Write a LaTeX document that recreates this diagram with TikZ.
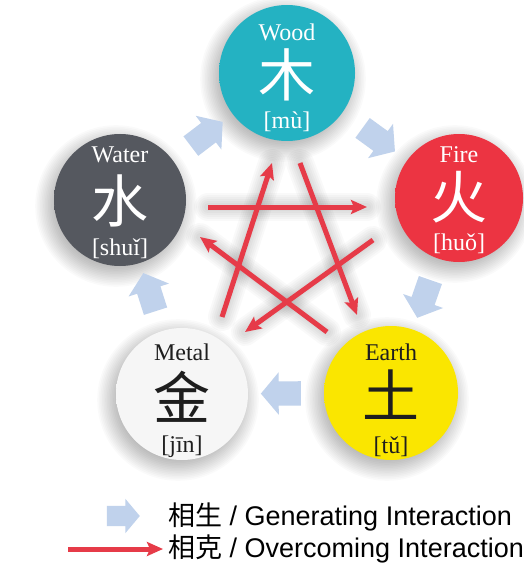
\documentclass[tikz,border=0pt]{standalone}
\usepackage{fontspec}
\setmainfont{Liberation Serif}
\newfontfamily\legendfont{Liberation Sans}
\newfontfamily\cjk{Noto Sans CJK SC}
\usetikzlibrary{shapes.arrows,arrows.meta}
\definecolor{woodIn}{HTML}{24B2C2}
\definecolor{woodOut}{HTML}{138E9E}
\definecolor{fireIn}{HTML}{EC3442}
\definecolor{fireOut}{HTML}{C81E2E}
\definecolor{waterIn}{HTML}{55585F}
\definecolor{waterOut}{HTML}{3C3F46}
\definecolor{metalIn}{HTML}{F6F6F6}
\definecolor{metalOut}{HTML}{E2E2E2}
\definecolor{earthIn}{HTML}{FAE600}
\definecolor{earthOut}{HTML}{E6D000}
\definecolor{genBlue}{HTML}{C0D2EC}
\definecolor{overRed}{HTML}{E63B48}
\definecolor{darkTxt}{HTML}{1E1E1E}
\colorlet{btnin}{white}
\colorlet{btnout}{black}
\pgfdeclareradialshading[btnin,btnout]{button}{\pgfpoint{0bp}{0bp}}{color(0bp)=(btnin); color(36bp)=(btnin); color(50bp)=(btnout)}
\tikzset{
  element/.style n args={3}{circle, minimum size=#1, inner sep=0pt, draw=none,
     /utils/exec={\colorlet{btnin}{#2}\colorlet{btnout}{#3}}, shade, shading=button},
  wordtxt/.style={anchor=base, inner sep=0pt, font=\fontsize{24}{28}\selectfont},
  chartxt/.style={inner sep=0pt, font=\cjk\fontsize{57}{60}\selectfont},
  pytxt/.style={anchor=base, inner sep=0pt, font=\fontsize{24}{28}\selectfont},
  genarrow/.style={single arrow, fill=genBlue, draw=none, minimum height=40pt,
     inner xsep=0pt, inner ysep=12pt, single arrow head extend=9pt,
     single arrow tip angle=100, sloped, allow upside down, midway},
  legendarrow/.style={single arrow, fill=genBlue, draw=none, minimum height=33pt,
     inner xsep=0pt, inner ysep=10pt, single arrow head extend=7pt, single arrow tip angle=100},
  overarrow/.style={draw=overRed, line width=5pt, -{Stealth[length=16pt,width=14pt,inset=3pt]}},
  haze/.style={draw=black, opacity=0.025, line cap=round},
  shadowring/.style={fill=black, opacity=0.018},
  legendtxt/.style={anchor=west, inner sep=0pt, font=\legendfont\fontsize{27}{32}\selectfont},
}
\begin{document}
\begin{tikzpicture}[x=1pt,y=-1pt]
\fill[white] (0,0) rectangle (523,564);
\useasboundingbox (0,0) rectangle (523,564);

% soft shadows of the buttons
\foreach \cx/\cy/\r in {287/73/68, 459/198/64, 120/200/66, 182/394/66, 391/393/67}{
  \foreach \k in {0,...,13}{
    \fill[shadowring] (\cx-4,\cy+6) circle[radius={(\r-6+1.6*\k)*1pt}];
  }
}

% star coordinates
\coordinate (s1a) at (300,163); \coordinate (s1b) at (357,315);
\coordinate (s2a) at (373,240); \coordinate (s2b) at (245,332);
\coordinate (s3a) at (222,317); \coordinate (s3b) at (272,163);
\coordinate (s4a) at (208,207); \coordinate (s4b) at (367,207);
\coordinate (s5a) at (327,332); \coordinate (s5b) at (200,237);

% haze behind the star
\foreach \a/\b in {s1a/s1b, s2a/s2b, s3a/s3b, s4a/s4b, s5a/s5b}{
  \foreach \w in {28,24,20,16,12,8}{
    \draw[haze, line width=\w pt] (\a) -- (\b);
  }
}

% element buttons
\node[element={136pt}{woodIn}{woodOut}] (wood) at (287,73) {};
\node[element={128pt}{fireIn}{fireOut}] (fire) at (459,198) {};
\node[element={132pt}{waterIn}{waterOut}] (water) at (120,200) {};
\node[element={132pt}{metalIn}{metalOut}] (metal) at (182,394) {};
\node[element={134pt}{earthIn}{earthOut}] (earth) at (391,393) {};

% generating arrows
\path (wood) -- node[genarrow] (g1) {} (fire);
\path (fire) -- node[genarrow] (g2) {} (earth);
\path (earth) -- node[genarrow] (g3) {} (metal);
\path (metal) -- node[genarrow] (g4) {} (water);
\path (water) -- node[genarrow] (g5) {} (wood);

% overcoming arrows
\draw[overarrow] (s1a) -- (s1b);
\draw[overarrow] (s2a) -- (s2b);
\draw[overarrow] (s3a) -- (s3b);
\draw[overarrow] (s4a) -- (s4b);
\draw[overarrow] (s5a) -- (s5b);

% texts
\node[wordtxt, text=white] (woodW) at (287,41) {Wood};
\node[chartxt, text=white] (woodC) at (287,75) {木};
\node[pytxt, text=white] (woodP) at (287,129) {[mù]};

\node[wordtxt, text=white] (fireW) at (459,162) {Fire};
\node[chartxt, text=white] (fireC) at (459,197) {火};
\node[pytxt, text=white] (fireP) at (459,250) {[huǒ]};

\node[wordtxt, text=white] (waterW) at (120,163) {Water};
\node[chartxt, text=white] (waterC) at (120,201) {水};
\node[pytxt, text=white] (waterP) at (120,255) {[shuǐ]};

\node[wordtxt, text=darkTxt] (metalW) at (182,360) {Metal};
\node[chartxt, text=darkTxt] (metalC) at (182,397) {金};
\node[pytxt, text=darkTxt] (metalP) at (182,452) {[jīn]};

\node[wordtxt, text=darkTxt] (earthW) at (391,360) {Earth};
\node[chartxt, text=darkTxt] (earthC) at (391,395) {土};
\node[pytxt, text=darkTxt] (earthP) at (391,453) {[tǔ]};

% legend
\node[legendarrow] (lg) at (119,516) {};
\node[legendtxt] (lgT) at (168,517) {{\cjk 相生} / Generating Interaction};
\coordinate (lrA) at (68,549);
\coordinate (lrB) at (163,549);
\draw[overarrow] (lrA) -- (lrB);
\node[legendtxt] (lrT) at (168,549) {{\cjk 相克} / Overcoming Interaction};
\end{tikzpicture}
\end{document}
